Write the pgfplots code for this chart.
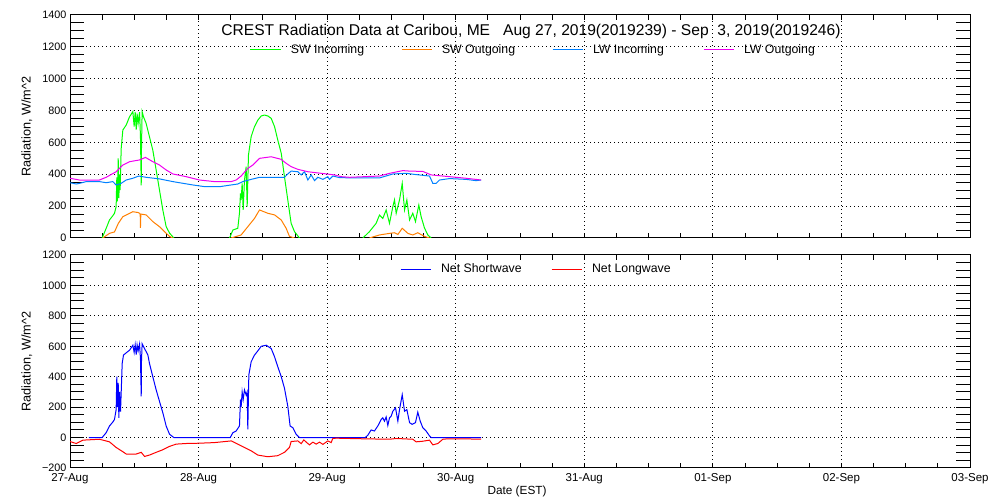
\documentclass[border=0pt]{standalone}
\usepackage{fontspec}
\setmainfont{Liberation Sans}
\usepackage{pgfplots}
\pgfplotsset{compat=1.18}
\definecolor{swin}{RGB}{0,255,0}
\definecolor{swout}{RGB}{255,127,0}
\definecolor{lwin}{RGB}{0,128,255}
\definecolor{lwout}{RGB}{240,0,240}
\definecolor{netsw}{RGB}{0,0,255}
\definecolor{netlw}{RGB}{255,0,0}
\pgfplotsset{
  common/.style={
    scale only axis, anchor=south west, width=900pt,
    xmin=0, xmax=7, xtick={0,1,...,7}, minor x tick num=3,
    grid=major,
    major grid style={black, line width=1pt, dash pattern=on 1pt off 3pt},
    axis line style={line width=1pt},
    tick style={black, line width=1pt},
    xtick style={/pgfplots/major tick length=5pt,/pgfplots/minor tick length=5pt},
    ytick style={/pgfplots/major tick length=14pt,/pgfplots/minor tick length=14pt},
    tick align=inside, tick pos=both,
    minor y tick num=3,
    yticklabel style={font=\fontsize{10.8}{12}\selectfont},
    xticklabel style={font=\fontsize{11.5}{13}\selectfont, yshift=-2pt},
    /pgf/number format/assume math mode=true,
    /pgf/number format/1000 sep={},
    unbounded coords=jump,
    every axis plot/.append style={line width=1pt},
    legend image code/.code={\draw[#1,line width=1pt] (0pt,0pt) -- (30pt,0pt);},
    legend columns=4,
    legend style={draw=none, fill=none, inner sep=0pt, outer sep=0pt,
      font=\fontsize{12.3}{14}\selectfont, column sep=0pt,
      nodes={inner sep=0pt},
      /tikz/every odd column/.append style={column sep=10pt}, anchor=west},
    ylabel={Radiation, W/m\^{}2},
    ylabel style={at={(axis description cs:-0.048,0.5)}, anchor=center, font=\fontsize{12.7}{14}\selectfont},
  }
}
\begin{document}
\begin{tikzpicture}
\path[use as bounding box] (0pt,0pt) rectangle (1000pt,500pt);
\begin{axis}[common, at={(70pt,262pt)}, height=223pt,
  ymin=0, ymax=1400, ytick={0,200,...,1400},
  xticklabels={},
  title={CREST Radiation Data at Caribou, ME\ \ \ Aug 27, 2019(2019239) - Sep\ \ 3, 2019(2019246)},
  every axis title shift=0pt,
  title style={at={(axis description cs:0.5,1)}, anchor=center, yshift=-16pt, xshift=11pt, font=\fontsize{15.6}{17}\selectfont},
  legend style={at={(axis description cs:0.2,0.846)}},
]
\addplot[swin] coordinates {(0.250,0)(0.281,60)(0.307,113)(0.333,140)(0.346,155)(0.359,197)(0.364,380)(0.369,230)(0.375,500)(0.380,250)(0.385,400)(0.390,300)(0.398,560)(0.411,678)(0.437,709)(0.463,761)(0.489,793)(0.499,700)(0.507,790)(0.515,680)(0.522,780)(0.530,720)(0.541,790)(0.548,640)(0.554,330)(0.556,560)(0.561,793)(0.572,760)(0.592,720)(0.618,636)(0.644,552)(0.670,427)(0.696,301)(0.722,176)(0.748,71)(0.774,31)(0.808,0)
(1.0,nan)
(1.241,0)(1.267,50)(1.305,61)(1.318,155)(1.326,280)(1.331,238)(1.339,343)(1.347,176)(1.357,364)(1.370,448)(1.378,197)(1.388,521)(1.409,636)(1.435,699)(1.461,740)(1.487,766)(1.513,772)(1.539,766)(1.565,751)(1.591,699)(1.616,615)(1.643,532)(1.668,385)(1.694,238)(1.720,92)(1.746,40)(1.785,0)
(2.0,nan)
(2.278,0)(2.329,40)(2.381,92)(2.407,144)(2.433,123)(2.459,176)(2.485,92)(2.511,197)(2.524,239)(2.537,155)(2.563,239)(2.584,343)(2.602,176)(2.620,239)(2.641,113)(2.666,155)(2.687,103)(2.713,207)(2.731,134)(2.757,63)(2.783,19)(2.809,0)};
\addlegendentry{\makebox[110pt][l]{SW Incoming}}
\addplot[swout] coordinates {(0.255,0)(0.307,29)(0.346,38)(0.376,92)(0.411,134)(0.463,155)(0.489,165)(0.528,160)(0.541,155)(0.546,150)(0.548,63)(0.551,150)(0.554,150)(0.592,145)(0.644,103)(0.696,71)(0.735,40)(0.774,10)(0.800,0)
(1.0,nan)
(1.254,0)(1.331,19)(1.383,71)(1.435,123)(1.474,176)(1.539,155)(1.591,145)(1.643,113)(1.681,61)(1.707,10)(1.746,0)
(2.0,nan)
(2.329,0)(2.407,19)(2.485,29)(2.524,33)(2.550,22)(2.584,61)(2.628,29)(2.666,19)(2.705,33)(2.757,10)(2.796,0)};
\addlegendentry{\makebox[110pt][l]{SW Outgoing}}
\addplot[lwin] coordinates {(0.000,347)(0.048,339)(0.074,343)(0.126,354)(0.229,354)(0.281,347)(0.333,354)(0.359,333)(0.398,343)(0.437,364)(0.489,375)(0.535,389)(0.592,381)(0.696,371)(0.800,354)(0.955,333)(1.050,322)(1.163,322)(1.228,330)(1.305,339)(1.344,354)(1.409,368)(1.474,381)(1.668,381)(1.694,402)(1.720,420)(1.772,416)(1.798,396)(1.824,416)(1.850,364)(1.876,396)(1.902,360)(1.928,381)(1.967,368)(2.005,385)(2.018,368)(2.044,389)(2.096,379)(2.213,377)(2.407,377)(2.511,402)(2.615,406)(2.692,398)(2.796,389)(2.822,343)(2.848,343)(2.874,364)(2.952,373)(3.081,368)(3.159,360)(3.198,364)};
\addlegendentry{\makebox[110pt][l]{LW Incoming}}
\addplot[lwout] coordinates {(0.000,375)(0.074,364)(0.229,364)(0.281,381)(0.359,416)(0.411,458)(0.463,479)(0.541,490)(0.587,506)(0.644,479)(0.696,458)(0.748,427)(0.800,402)(0.904,385)(1.007,364)(1.124,354)(1.254,354)(1.292,364)(1.331,389)(1.383,437)(1.422,458)(1.474,500)(1.565,510)(1.642,494)(1.681,469)(1.720,448)(1.772,431)(1.850,416)(1.954,406)(2.057,396)(2.109,385)(2.174,381)(2.407,389)(2.485,406)(2.589,423)(2.641,420)(2.744,418)(2.809,396)(2.952,385)(3.081,375)(3.198,364)};
\addlegendentry{\makebox[110pt][l]{LW Outgoing}}
\end{axis}
\begin{axis}[common, at={(70pt,32pt)}, height=213pt,
  ymin=-200, ymax=1200, ytick={-200,0,...,1200},
  yticklabels={−200,0,200,400,600,800,1000,1200},
  xticklabels={27-Aug,28-Aug,29-Aug,30-Aug,31-Aug,01-Sep,02-Sep,03-Sep},
  xlabel={Date (EST)},
  xlabel style={at={(axis description cs:0.4967,0)}, anchor=center, yshift=-23pt, font=\fontsize{11.8}{13}\selectfont},
  legend style={at={(axis description cs:0.3667,0.933)}},
]
\addplot[netsw] coordinates {(0.146,0)(0.250,0)(0.281,32)(0.307,76)(0.333,102)(0.346,119)(0.359,184)(0.364,400)(0.369,200)(0.375,360)(0.380,130)(0.385,300)(0.393,170)(0.406,488)(0.416,542)(0.437,557)(0.463,574)(0.489,607)(0.499,560)(0.507,610)(0.515,545)(0.522,610)(0.530,570)(0.541,615)(0.548,520)(0.554,271)(0.556,500)(0.561,617)(0.580,585)(0.606,542)(0.618,488)(0.644,400)(0.670,314)(0.696,238)(0.722,163)(0.748,76)(0.774,22)(0.808,0)(1.246,0)(1.267,32)(1.292,43)(1.318,76)(1.326,250)(1.331,200)(1.339,300)(1.347,250)(1.357,314)(1.370,280)(1.378,300)(1.383,54)(1.391,412)(1.409,498)(1.435,542)(1.461,570)(1.487,600)(1.526,607)(1.565,585)(1.591,531)(1.616,466)(1.643,400)(1.668,325)(1.694,206)(1.712,76)(1.733,65)(1.759,22)(1.785,0)(2.296,0)(2.316,15)(2.342,50)(2.368,43)(2.394,76)(2.420,119)(2.433,130)(2.446,108)(2.459,136)(2.472,80)(2.485,130)(2.498,141)(2.511,173)(2.532,195)(2.550,108)(2.563,184)(2.584,282)(2.602,173)(2.620,184)(2.641,98)(2.661,87)(2.687,98)(2.705,167)(2.724,108)(2.744,65)(2.770,43)(2.796,11)(2.809,0)(3.198,0)};
\addlegendentry{\makebox[110pt][l]{Net Shortwave}}
\addplot[netlw] coordinates {(0.000,-26)(0.048,-39)(0.100,-17)(0.229,-11)(0.307,-28)(0.359,-65)(0.411,-93)(0.437,-108)(0.515,-108)(0.554,-97)(0.580,-124)(0.618,-115)(0.670,-97)(0.722,-80)(0.774,-58)(0.826,-43)(0.904,-39)(1.007,-37)(1.124,-33)(1.254,-22)(1.305,-43)(1.357,-65)(1.409,-87)(1.461,-115)(1.539,-126)(1.616,-119)(1.668,-97)(1.707,-65)(1.720,-26)(1.772,-22)(1.798,-40)(1.819,-15)(1.837,-30)(1.863,-48)(1.889,-30)(1.915,-43)(1.941,-30)(1.967,-45)(2.005,-22)(2.031,-33)(2.044,-6)(2.070,-4)(2.278,-8)(2.485,-11)(2.537,-6)(2.666,-11)(2.692,-28)(2.744,-24)(2.796,-17)(2.822,-48)(2.861,-39)(2.900,-11)(2.939,-8)(3.198,-10)};
\addlegendentry{\makebox[110pt][l]{Net Longwave}}
\end{axis}
\end{tikzpicture}
\end{document}
